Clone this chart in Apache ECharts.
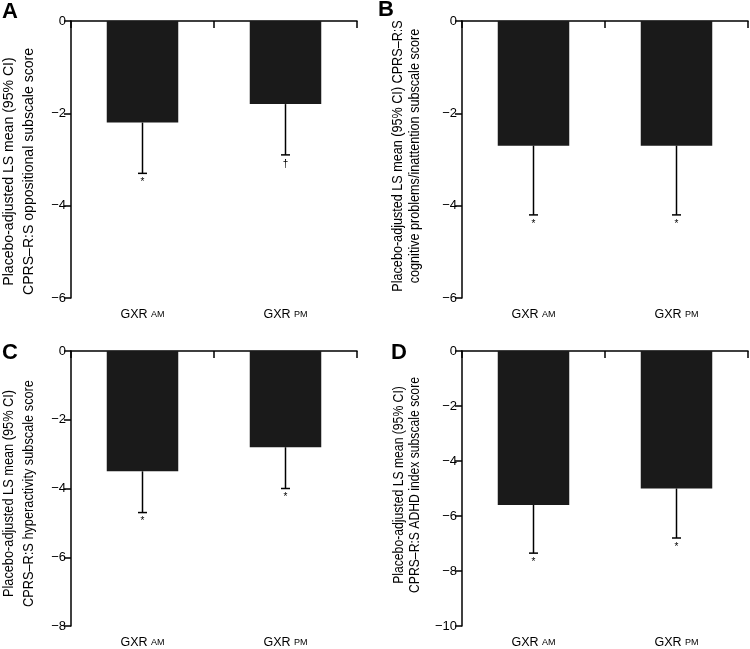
<!DOCTYPE html>
<html>
<head>
<meta charset="utf-8">
<script src="https://cdn.jsdelivr.net/npm/echarts@6/dist/echarts.min.js"></script>
<style>html,body{margin:0;padding:0;background:#fff}#c{width:750px;height:649px}</style>
</head>
<body>
<div id="c"></div>
<script>
// ---- data ----
const categories = ['GXR AM', 'GXR PM'];

const meansA = [-2.2, -1.8];
const ciLowA = [-3.3, -2.9];
const marksA = ['*', '\u2020'];

const meansB = [-2.7, -2.7];
const ciLowB = [-4.2, -4.2];
const marksB = ['*', '*'];

const meansC = [-3.5, -2.8];
const ciLowC = [-4.7, -4.0];
const marksC = ['*', '*'];

const meansD = [-5.6, -5.0];
const ciLowD = [-7.35, -6.8];
const marksD = ['*', '*'];

const yMins = [-6, -6, -8, -10];
const panelLetters = ['A', 'B', 'C', 'D'];
const yNames = [
  'Placebo-adjusted LS mean (95% CI)\nCPRS\u2013R:S oppositional subscale score',
  'Placebo-adjusted LS mean (95% CI) CPRS\u2013R:S\ncognitive problems/inattention subscale score',
  'Placebo-adjusted LS mean (95% CI)\nCPRS\u2013R:S hyperactivity subscale score',
  'Placebo-adjusted LS mean (95% CI)\nCPRS\u2013R:S ADHD index subscale score'
];

const panels = [
  {means: meansA, low: ciLowA, marks: marksA},
  {means: meansB, low: ciLowB, marks: marksB},
  {means: meansC, low: ciLowC, marks: marksC},
  {means: meansD, low: ciLowD, marks: marksD}
];

// ---- layout ----
const FONT = '"Liberation Sans", Arial, sans-serif';
const grids = [
  {left: 71, top: 21, width: 286, height: 277},
  {left: 462, top: 21, width: 286, height: 277},
  {left: 71, top: 351, width: 286, height: 277},
  {left: 462, top: 351, width: 286, height: 277}
];
const namePos = [[19, 171.5], [406.5, 156], [19, 493.5], [407, 485]];
const nameLH = [20, 17, 20, 16];
const nameScale = [0.97, 0.87, 0.88, 0.84];
const letterPos = [[10, 12], [386, 10], [10, 353], [399, 353]];

const option = {
  animation: false,
  backgroundColor: '#fff',
  grid: grids,
  xAxis: [],
  yAxis: [],
  series: [],
  graphic: []
};

panels.forEach((p, k) => {
  // top axis line with boundary ticks pointing down
  option.xAxis.push({
    type: 'category', gridIndex: k, position: 'top', data: categories,
    boundaryGap: true,
    axisLine: {show: true, onZero: false, lineStyle: {color: '#000', width: 1.5}},
    axisTick: {show: true, inside: true, length: 7, lineStyle: {color: '#000', width: 1.5}},
    axisLabel: {show: false},
    splitLine: {show: false}
  });
  // bottom axis for labels only
  option.xAxis.push({
    type: 'category', gridIndex: k, position: 'bottom', data: categories,
    axisLine: {show: false, onZero: false},
    axisTick: {show: false},
    axisLabel: {
      margin: 10,
      formatter: v => { const s = v.split(' '); return s[0] + ' {s|' + s[1] + '}'; },
      color: '#000', fontFamily: FONT, fontSize: 12.5,
      rich: {s: {fontSize: 9, fontFamily: FONT, color: '#000'}}
    }
  });
  option.yAxis.push({
    type: 'value', gridIndex: k, min: yMins[k], max: 0, interval: 2,
    axisLine: {show: true, lineStyle: {color: '#000', width: 1.5}},
    axisTick: {show: true, length: 7, lineStyle: {color: '#000', width: 1.5}},
    splitLine: {show: false},
    axisLabel: {
      margin: 5, color: '#000', fontFamily: FONT, fontSize: 13,
      formatter: v => String(v).replace('-', '\u2212')
    }
  });
  option.series.push({
    type: 'bar', xAxisIndex: 2 * k + 1, yAxisIndex: k,
    data: p.means, barWidth: '50%',
    itemStyle: {color: '#1a1a1a'}
  });
  const marks = p.marks;
  option.series.push({
    type: 'custom', xAxisIndex: 2 * k + 1, yAxisIndex: k,
    data: p.means.map((m, i) => [i, m, p.low[i]]),
    encode: {x: 0, y: [1, 2]},
    z: 3,
    renderItem: (params, api) => {
      const i = api.value(0);
      const t = api.coord([i, api.value(1)]);
      const b = api.coord([i, api.value(2)]);
      return {
        type: 'group', children: [
          {type: 'line', shape: {x1: t[0], y1: t[1], x2: b[0], y2: b[1]}, style: {stroke: '#000', lineWidth: 1.5}},
          {type: 'line', shape: {x1: b[0] - 4.5, y1: b[1], x2: b[0] + 4.5, y2: b[1]}, style: {stroke: '#000', lineWidth: 1.5}},
          {type: 'text', x: b[0], y: b[1] + 4, style: {text: marks[params.dataIndex], fill: '#000', font: '10px ' + FONT, align: 'center', verticalAlign: 'top'}}
        ]
      };
    }
  });
  option.graphic.push({
    type: 'text', x: namePos[k][0], y: namePos[k][1], rotation: Math.PI / 2,
    scaleX: nameScale[k], scaleY: 1,
    style: {text: yNames[k], fill: '#000', font: '14.5px ' + FONT, lineHeight: nameLH[k], align: 'center', verticalAlign: 'middle'}
  });
  option.graphic.push({
    type: 'text', x: letterPos[k][0], y: letterPos[k][1],
    style: {text: panelLetters[k], fill: '#000', font: 'bold 22px ' + FONT, align: 'center', verticalAlign: 'middle'}
  });
});

const chart = echarts.init(document.getElementById('c'), null, {renderer: 'canvas'});
chart.setOption(option);
</script>
</body>
</html>
